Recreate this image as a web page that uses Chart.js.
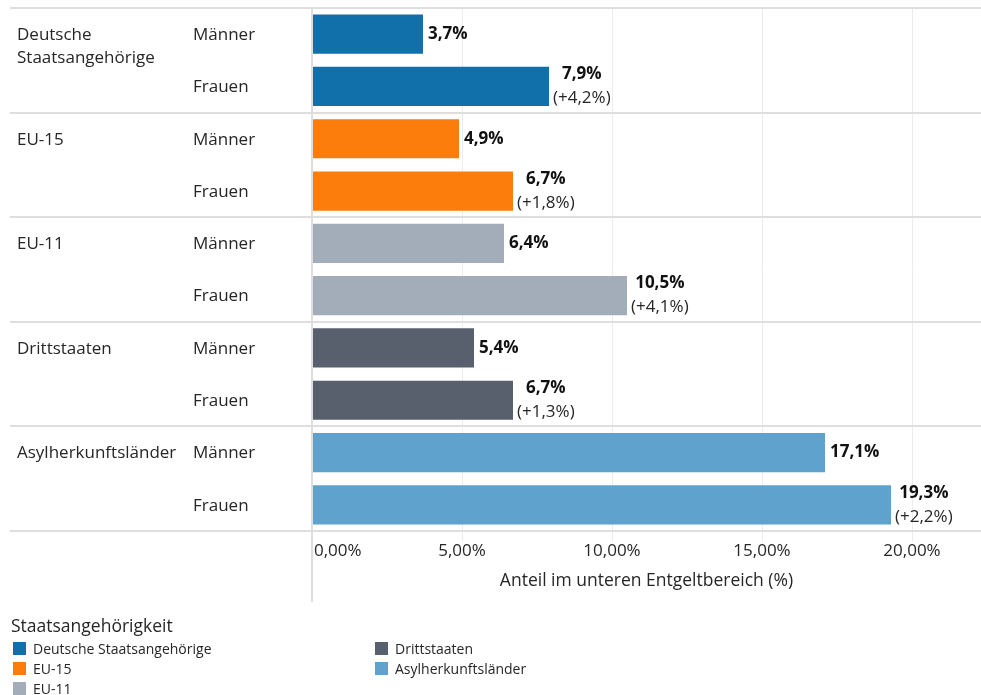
<!DOCTYPE html>
<html lang="de">
<head>
<meta charset="utf-8">
<title>Anteil im unteren Entgeltbereich</title>
<script src="https://cdn.jsdelivr.net/npm/chart.js@4.4.1/dist/chart.umd.min.js"></script>
<style>
  html, body { margin: 0; padding: 0; background: #fff; }
  #wrap { position: relative; width: 981px; height: 695px; font-family: "Open Sans", sans-serif; color: #262626; }
  #chart { position: absolute; left: 0; top: 0; }
  .leg-titel { position: absolute; left: 11px; top: 614px; font-size: 17.5px; line-height: 22px; }
  .leg-eintrag { position: absolute; height: 20px; line-height: 20px; font-size: 14px; white-space: nowrap; }
  .leg-eintrag i { position: absolute; left: 0; top: 3px; width: 13px; height: 13px; }
  .leg-eintrag span { position: absolute; left: 20px; top: 0; }
</style>
</head>
<body>
<div id="wrap">
  <canvas id="chart" width="981" height="695"></canvas>
  <div class="leg-titel">Staatsangehörigkeit</div>
</div>
<script>
// Anteil im unteren Entgeltbereich nach Staatsangehörigkeit und Geschlecht

const gruppen = ["Deutsche Staatsangehörige", "EU-15", "EU-11", "Drittstaaten", "Asylherkunftsländer"];
const geschlechter = ["Männer", "Frauen"];
const anteilMaenner = [3.7, 4.9, 6.4, 5.4, 17.1];
const anteilFrauen = [7.9, 6.7, 10.5, 6.7, 19.3];
const farben = ["#1170aa", "#fc7d0b", "#a3acb9", "#57606c", "#5fa2ce"];
const xTicks = [0, 5, 10, 15, 20];

const SCHRIFT = '"Open Sans", sans-serif';
const TEXT = "#262626";

// eine Zeile je Gruppe x Geschlecht
const zeilen = [];
const werte = [];
const barFarben = [];
gruppen.forEach((g, i) => {
  geschlechter.forEach((s) => {
    zeilen.push(g + "|" + s);
    werte.push(s === "Männer" ? anteilMaenner[i] : anteilFrauen[i]);
    barFarben.push(farben[i]);
  });
});

const fmt = (v, d) => v.toFixed(d).replace(".", ",");

// Beschriftungen, Trennlinien, Achsentexte
const beschriftung = {
  id: "beschriftung",
  afterDraw(chart) {
    const { ctx, chartArea, scales } = chart;
    const x = scales.x, y = scales.y;
    const breite = chart.width;
    ctx.save();

    // horizontale Trennlinien zwischen den Gruppen
    ctx.strokeStyle = "#dedede";
    ctx.lineWidth = 2;
    for (let g = 0; g <= gruppen.length; g++) {
      let py;
      if (g === 0) py = chartArea.top;
      else if (g === gruppen.length) py = chartArea.bottom;
      else py = (y.getPixelForValue(2 * g - 1) + y.getPixelForValue(2 * g)) / 2;
      py = Math.round(py);
      ctx.beginPath();
      ctx.moveTo(10, py);
      ctx.lineTo(breite, py);
      ctx.stroke();
    }

    // Achsenlinie bei 0
    const x0 = Math.round(x.getPixelForValue(0));
    ctx.beginPath();
    ctx.moveTo(x0, chartArea.top);
    ctx.lineTo(x0, 602);
    ctx.stroke();

    // linke Beschriftung: Gruppe und Geschlecht
    ctx.fillStyle = TEXT;
    ctx.textBaseline = "middle";
    ctx.textAlign = "left";
    ctx.font = "17px " + SCHRIFT;
    gruppen.forEach((g, i) => {
      const py = y.getPixelForValue(2 * i) + 1;
      const teile = ctx.measureText(g).width > 165 ? g.split(" ") : [g];
      teile.forEach((t, k) => ctx.fillText(t, 17, py + k * 23));
    });
    zeilen.forEach((z, i) => {
      ctx.fillText(z.split("|")[1], 193, y.getPixelForValue(i) + 1);
    });

    // Werte an den Balken, bei Frauen mit Abstand zu den Männern
    const meta = chart.getDatasetMeta(0);
    meta.data.forEach((bar, i) => {
      const ende = bar.x;
      const py = bar.y;
      const wert = fmt(werte[i], 1) + "%";
      ctx.fillStyle = "#111";
      if (i % 2 === 0) {
        ctx.font = "bold 17px " + SCHRIFT;
        ctx.textAlign = "left";
        ctx.fillText(wert, ende + 5, py);
      } else {
        const diff = Math.round((werte[i] - werte[i - 1]) * 10) / 10;
        const zusatz = "(+" + fmt(diff, 1) + "%)";
        ctx.font = "bold 17px " + SCHRIFT;
        const w1 = ctx.measureText(wert).width;
        ctx.font = "17px " + SCHRIFT;
        const w2 = ctx.measureText(zusatz).width;
        const mitte = ende + 4 + Math.max(w1, w2) / 2;
        ctx.textAlign = "center";
        ctx.font = "bold 17px " + SCHRIFT;
        ctx.fillText(wert, mitte, py - 12);
        ctx.font = "17px " + SCHRIFT;
        ctx.fillStyle = TEXT;
        ctx.fillText(zusatz, mitte, py + 12);
      }
    });

    // x-Achse: Ticks und Titel
    ctx.fillStyle = TEXT;
    ctx.font = "17px " + SCHRIFT;
    xTicks.forEach((t) => {
      const txt = fmt(t, 2) + "%";
      const px = x.getPixelForValue(t);
      const w = ctx.measureText(txt).width;
      if (px - w / 2 < chartArea.left) {
        ctx.textAlign = "left";
        ctx.fillText(txt, chartArea.left + 2, 551);
      } else {
        ctx.textAlign = "center";
        ctx.fillText(txt, px, 551);
      }
    });
    ctx.textAlign = "center";
    ctx.font = "17.5px " + SCHRIFT;
    ctx.fillText("Anteil im unteren Entgeltbereich (%)", (chartArea.left + breite) / 2, 581);

    ctx.restore();
  },
};

new Chart(document.getElementById("chart"), {
  type: "bar",
  data: {
    labels: zeilen,
    datasets: [{
      data: werte,
      backgroundColor: barFarben,
      borderWidth: 0,
      barPercentage: 0.75,
      categoryPercentage: 1,
    }],
  },
  options: {
    indexAxis: "y",
    responsive: false,
    animation: false,
    layout: { padding: { top: 8, right: 69, bottom: 0, left: 0 } },
    plugins: { legend: { display: false }, tooltip: { enabled: false } },
    scales: {
      y: {
        ticks: { display: false },
        grid: { display: false },
        border: { display: false },
        afterFit: (s) => { s.width = 312; },
      },
      x: {
        min: 0, max: 20,
        ticks: { display: false, stepSize: 5 },
        grid: { color: "#ececec", lineWidth: 1, drawTicks: true, tickLength: 10 },
        border: { display: false },
        afterFit: (s) => { s.height = 695 - 8 - 523; },
      },
    },
  },
  plugins: [beschriftung],
});

// Legende: drei Einträge je Spalte
const wrap = document.getElementById("wrap");
gruppen.forEach((g, i) => {
  const el = document.createElement("div");
  el.className = "leg-eintrag";
  el.style.left = (i < 3 ? 13 : 375) + "px";
  el.style.top = (639 + (i % 3) * 20) + "px";
  el.innerHTML = `<i style="background:${farben[i]}"></i><span>${g}</span>`;
  wrap.appendChild(el);
});
</script>
</body>
</html>
